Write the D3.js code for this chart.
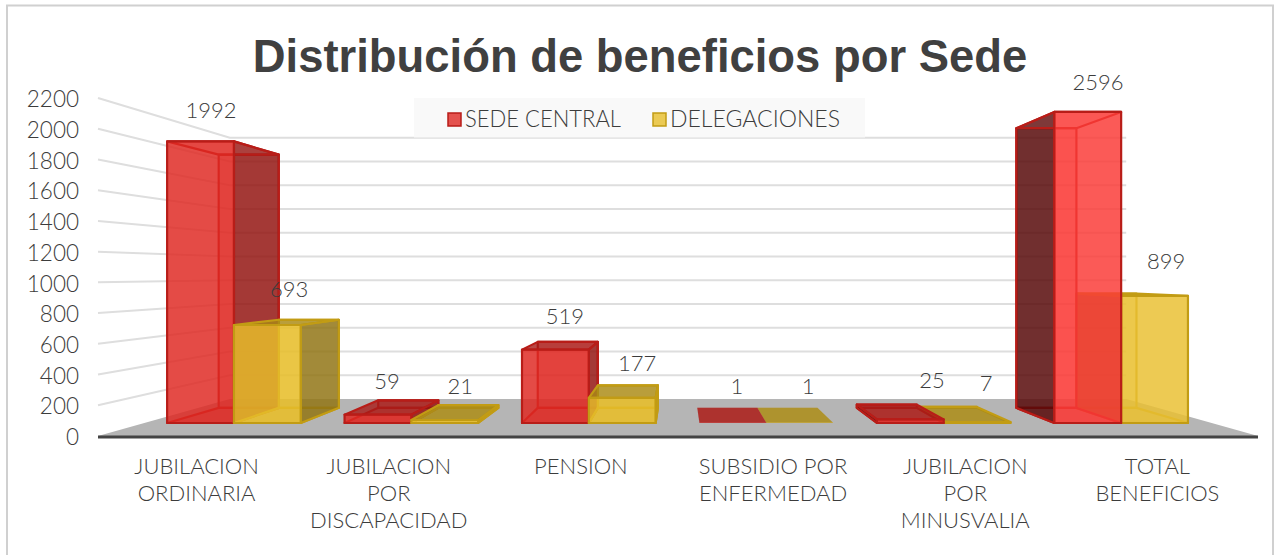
<!DOCTYPE html>
<html lang="es">
<head>
<meta charset="utf-8">
<script src="https://d3js.org/d3.v7.min.js"></script>
<style>
  body { margin: 0; background: #fff; }
  text { font-family: 'Lato', sans-serif; font-weight: 300; fill: #3c3c3c; }
  .title { font-family: 'Liberation Sans', Arial, sans-serif; font-weight: 700; font-size: 45.4px; fill: #404040; }
  .tick text { font-size: 22.5px; }
  .cat, .lab { font-size: 22px; }
  .legend { font-size: 23px; }
</style>
</head>
<body>
<div id="chart"></div>
<script>
var categories = [
  ['JUBILACION', 'ORDINARIA'],
  ['JUBILACION', 'POR', 'DISCAPACIDAD'],
  ['PENSION'],
  ['SUBSIDIO POR', 'ENFERMEDAD'],
  ['JUBILACION', 'POR', 'MINUSVALIA'],
  ['TOTAL', 'BENEFICIOS']
];
var seriesNames = ['SEDE CENTRAL', 'DELEGACIONES'];
var sedeCentral = [1992, 59, 519, 1, 25, 2596];
var delegaciones = [693, 21, 177, 1, 7, 899];
var ticks = d3.range(0, 2201, 200);

// hand placed data labels, excel put them wherever (dx, dy from top of bar)
var labelNudge = [
  [[-15, -38], [0, -33]], [[-7, -26], [3, -26]], [[3, -29], [12, -28]],
  [[7, -29], [15, -29]], [[34, -31], [25, -31]], [[32, -38], [37, -33]]
];

var width = 1279, height = 555;
var cx = 678, cy = 273, groundY = 436;
var farK = 0.294;              // perspective strength

var x = d3.scaleBand().domain(d3.range(categories.length)).range([99, 1256]);
var xInner = d3.scaleBand().domain([0, 1]).range([0, x.bandwidth()]).paddingOuter(0.328);
var xLabel = d3.scaleBand().domain(d3.range(categories.length)).range([100.5, 1253.5]);
var y = d3.scaleLinear().domain([0, 2200]).range([groundY, 98]).clamp(true);
var frontDepth = 0.295, backDepth = 0.71;

function project(px, v, depth) {
  var s = 1 / (1 + farK * depth);
  return [cx + (px - cx) * s, cy + (y(v) - cy) * s];
}
var line = d3.line();

var svg = d3.select('#chart').append('svg').attr('width', width).attr('height', height);

// chart frame
svg.append('rect').attr('x', 7).attr('y', 5.5).attr('width', 1266).attr('height', 570)
  .attr('fill', '#fff').attr('stroke', '#d0d0d0').attr('stroke-width', 2);

svg.append('text').attr('class', 'title').attr('x', 640).attr('y', 72).attr('text-anchor', 'middle')
  .text('Distribución de beneficios por Sede');

// walls
var wallL = 98, wallR = 1258;
svg.append('g').selectAll('path').data(ticks.slice(1)).enter().append('path')
  .attr('d', function(d) {
    return line([project(wallL, d, 0), project(wallL, d, 1), project(wallR, d, 1)]);
  })
  .attr('fill', 'none').attr('stroke', '#dedede').attr('stroke-width', 2);

// floor
svg.append('path')
  .attr('d', line([project(wallL, 0, 0), project(wallR, 0, 0), project(wallR, 0, 1), project(wallL, 0, 1)]) + 'Z')
  .attr('fill', '#b5b5b5');
svg.append('line').attr('x1', wallL).attr('x2', wallR).attr('y1', groundY + 1).attr('y2', groundY + 1)
  .attr('stroke', '#444').attr('stroke-width', 3);

// y axis
var yAxis = d3.axisLeft(y).tickValues(ticks).tickSize(0).tickPadding(0).tickFormat(d3.format('d'));
svg.append('g').attr('transform', 'translate(79,1.5)').call(yAxis).call(function(g) {
  g.select('.domain').remove();
});

// bars
var palette = [
  { front: '#df2823', lit: '#fa3a37', sideR: '#8f1512', sideL: '#4d0808', top: '#a81c18', stroke: '#b81d18' },
  { front: '#e7be2b', lit: '#e9c032', sideR: '#8c7014', sideL: '#8c7014', top: '#a98a16', stroke: '#c29c14' }
];
var bars = [];
[sedeCentral, delegaciones].forEach(function(vals, s) {
  vals.forEach(function(v, i) {
    var x0 = x(i) + xInner(s), x1 = x0 + xInner.bandwidth();
    bars.push({ i: i, s: s, v: v, x0: x0, x1: x1 });
  });
});
// painter's order, outermost first
bars.sort(function(a, b) {
  return Math.abs(b.x0 + b.x1 - 2 * cx) - Math.abs(a.x0 + a.x1 - 2 * cx);
});

var barG = svg.append('g');
bars.forEach(function(b) {
  var c = palette[b.s];
  var g = barG.append('g').attr('stroke', c.stroke).attr('stroke-width', b.v < 5 ? 0 : 2.2).attr('stroke-linejoin', 'round');
  function face(pts, fill, op) {
    g.append('path').attr('d', line(pts) + 'Z').attr('fill', fill).attr('fill-opacity', op);
  }
  var a = project;
  var fd = frontDepth, bd = backDepth;
  var frontCol = b.i == categories.length - 1 ? c.lit : c.front;
  // back + floor
  face([a(b.x0, 0, bd), a(b.x1, 0, bd), a(b.x1, b.v, bd), a(b.x0, b.v, bd)], frontCol, 0.25);
  face([a(b.x0, 0, fd), a(b.x1, 0, fd), a(b.x1, 0, bd), a(b.x0, 0, bd)], frontCol, 0.3);
  // whichever side faces the viewer
  if (b.x1 < cx + 5) face([a(b.x1, 0, fd), a(b.x1, 0, bd), a(b.x1, b.v, bd), a(b.x1, b.v, fd)], c.sideR, 0.8);
  if (b.x0 > cx - 5) face([a(b.x0, 0, fd), a(b.x0, 0, bd), a(b.x0, b.v, bd), a(b.x0, b.v, fd)], c.sideL, 0.8);
  // top is only dark when seen from above, from below it just shows through the front
  var fromAbove = y(b.v) > cy;
  face([a(b.x0, b.v, fd), a(b.x1, b.v, fd), a(b.x1, b.v, bd), a(b.x0, b.v, bd)], fromAbove ? c.top : frontCol, fromAbove ? 0.8 : 0.1);
  face([a(b.x0, 0, fd), a(b.x1, 0, fd), a(b.x1, b.v, fd), a(b.x0, b.v, fd)], frontCol, 0.84);
});

// data labels
var labG = svg.append('g');
bars.forEach(function(b) {
  var p = project((b.x0 + b.x1) / 2, b.v, (frontDepth + backDepth) / 2);
  var n = labelNudge[b.i][b.s];
  labG.append('text').attr('class', 'lab').attr('text-anchor', 'middle').attr('dy', '.35em')
    .attr('x', p[0] + n[0]).attr('y', p[1] + n[1]).text(b.v);
});

// category labels
categories.forEach(function(lines, i) {
  var t = svg.append('text').attr('class', 'cat').attr('text-anchor', 'middle');
  lines.forEach(function(l, k) {
    t.append('tspan').attr('x', xLabel(i) + xLabel.bandwidth() / 2).attr('y', 474 + k * 27).text(l);
  });
});

// legend
var leg = svg.append('g');
leg.append('rect').attr('x', 414).attr('y', 98).attr('width', 451).attr('height', 40)
  .attr('fill', '#f9f9f9').attr('stroke', 'none');
leg.append('line').attr('x1', 414).attr('x2', 865).attr('y1', 138).attr('y2', 138).attr('stroke', '#e6e6e6').attr('stroke-width', 1.5);
var legX = d3.scaleOrdinal().domain(seriesNames).range([448, 653]);
var legLen = d3.scaleOrdinal().domain(seriesNames).range([156, 170]);
seriesNames.forEach(function(n, s) {
  leg.append('rect').attr('x', legX(n)).attr('y', 113).attr('width', 13).attr('height', 13)
    .attr('fill', palette[s].front).attr('fill-opacity', 0.8).attr('stroke', palette[s].stroke).attr('stroke-width', 1.5);
  leg.append('text').attr('class', 'legend').attr('x', legX(n) + 17).attr('y', 127)
    .attr('textLength', legLen(n)).attr('lengthAdjust', 'spacingAndGlyphs').text(n);
});
</script>
</body>
</html>
